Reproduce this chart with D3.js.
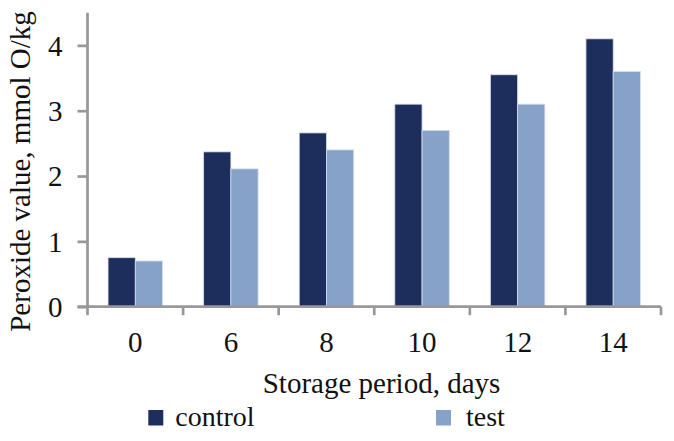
<!DOCTYPE html>
<html>
<head>
<meta charset="utf-8">
<script src="https://cdn.jsdelivr.net/npm/d3@7"></script>
<style>
  body { margin: 0; background: #fff; }
  svg text { font-family: "Liberation Serif", "Times New Roman", "DejaVu Serif", serif; fill: #111; }
</style>
</head>
<body>
<script>
const days = ["0", "6", "8", "10", "12", "14"];
const seriesNames = ["control", "test"];
const controlValues = [0.75, 2.37, 2.66, 3.10, 3.55, 4.10];
const testValues = [0.70, 2.11, 2.40, 2.70, 3.10, 3.60];
const yTicks = [0, 1, 2, 3, 4];

const svgWidth = 674;
const svgHeight = 441;
const colors = { control: "#1e2e5c", test: "#87a2c9" };
const axisColor = "#98989a";
const fontSize = 29;

const graph = d3.select("body")
    .append("svg").attr("width", svgWidth).attr("height", svgHeight);

const plotLeft = 87.5, plotRight = 661, plotTop = 12.7, plotBottom = 306.7;

const x = d3.scaleBand()
    .domain(days)
    .range([plotLeft, plotRight])
    .paddingInner(0.43)
    .paddingOuter(0.215);

const xInner = d3.scaleBand()
    .domain(seriesNames)
    .range([0, x.bandwidth()]);

const y = d3.scaleLinear()
    .domain([0, 4.5])
    .range([plotBottom, plotTop]);

const rows = days.map((d, i) => ({ day: d, control: controlValues[i], test: testValues[i] }));

// bars
const groups = graph.append("g").selectAll("g")
    .data(rows)
    .join("g")
    .attr("transform", d => `translate(${x(d.day)},0)`);

groups.selectAll("rect")
    .data(d => seriesNames.map(s => ({ key: s, value: d[s] })))
    .join("rect")
    .attr("x", d => xInner(d.key))
    .attr("y", d => y(d.value))
    .attr("width", xInner.bandwidth())
    .attr("height", d => plotBottom - y(d.value))
    .attr("fill", d => colors[d.key])
    .attr("stroke", "#d6deec")
    .attr("stroke-width", 0.8);

// y axis
const yAxis = graph.append("g")
    .attr("transform", `translate(${plotLeft},0)`)
    .call(d3.axisLeft(y).tickValues(yTicks).tickFormat(d3.format("d"))
        .tickSize(10).tickPadding(15).tickSizeOuter(0));
yAxis.select(".domain").attr("stroke", axisColor).attr("stroke-width", 2.7)
    .attr("d", `M0,${plotTop}V${plotBottom}`);
yAxis.selectAll(".tick line").attr("stroke", axisColor).attr("stroke-width", 2.7);
yAxis.selectAll(".tick text").attr("font-size", fontSize).attr("dy", "0.34em");

// x axis
const xAxis = graph.append("g")
    .attr("transform", `translate(0,${plotBottom})`)
    .call(d3.axisBottom(x).tickSize(0).tickPadding(24).tickSizeOuter(0));
xAxis.select(".domain").attr("stroke", axisColor).attr("stroke-width", 2.7)
    .attr("d", `M${plotLeft - 10},0H${plotRight}`);
xAxis.selectAll(".tick text").attr("font-size", fontSize).attr("y", 45).attr("dy", null);

// tick marks between categories
const boundaries = d3.range(days.length + 1).map(i => plotLeft + i * x.step());
graph.append("g").selectAll("line")
    .data(boundaries)
    .join("line")
    .attr("x1", d => d).attr("x2", d => d)
    .attr("y1", plotBottom).attr("y2", plotBottom + 8.5)
    .attr("stroke", axisColor).attr("stroke-width", 2.7);

// axis titles
graph.append("text")
    .attr("x", 381.5).attr("y", 392.5)
    .attr("text-anchor", "middle")
    .attr("font-size", fontSize)
    .text("Storage period, days");

graph.append("text")
    .attr("transform", "translate(29.5,171.5) rotate(-90)")
    .attr("text-anchor", "middle")
    .attr("font-size", fontSize)
    .text("Peroxide value, mmol O/kg");

// legend
const legendX = [148.3, 436];
const legend = graph.append("g").selectAll("g")
    .data(seriesNames)
    .join("g")
    .attr("transform", (d, i) => `translate(${legendX[i]},410)`);
legend.append("rect")
    .attr("width", 15).attr("height", 15.5)
    .attr("fill", d => colors[d]);
legend.append("text")
    .attr("x", (d, i) => i === 0 ? 27 : 30)
    .attr("y", 16)
    .attr("font-size", 28)
    .text(d => d);
</script>
</body>
</html>
